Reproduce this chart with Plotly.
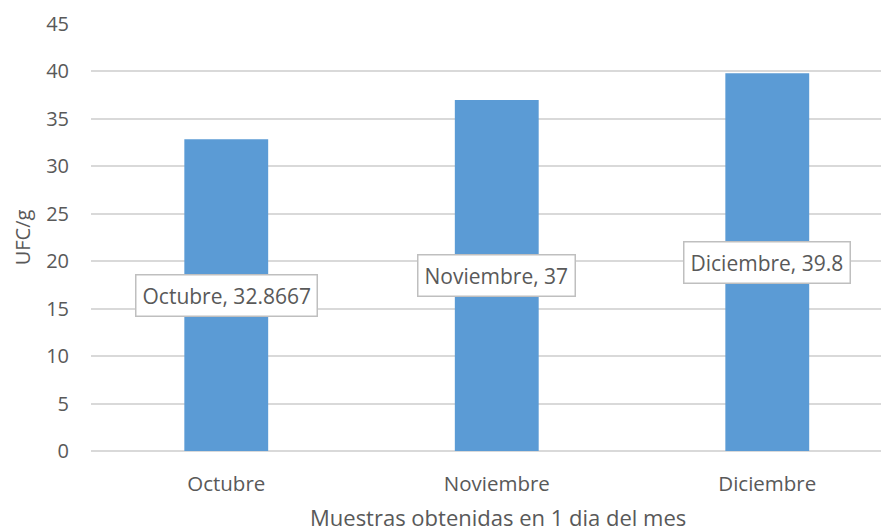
import plotly.graph_objects as go

categories = ["Octubre", "Noviembre", "Diciembre"]
values = [32.8667, 37, 39.8]
label_texts = ["Octubre, 32.8667", "Noviembre, 37", "Diciembre, 39.8"]
y_ticks = [0, 5, 10, 15, 20, 25, 30, 35, 40, 45]
x_title = "Muestras obtenidas en 1 dia del mes"
y_title = "UFC/g"

FONT = "Open Sans"
TXT = "#595959"

fig = go.Figure()
fig.add_trace(go.Bar(
    x=categories, y=values, width=0.31,
    marker=dict(color="#5B9BD5", line=dict(width=0)),
    hoverinfo="skip",
))

for c, v, t in zip(categories, values, label_texts):
    fig.add_annotation(
        x=c, y=v / 2, text=t, showarrow=False,
        font=dict(family=FONT, size=21, color=TXT),
        bgcolor="white", bordercolor="#BFBFBF", borderwidth=1.5, borderpad=6,
        xanchor="center", yanchor="middle",
    )

fig.add_annotation(
    x=0.51, y=0, xref="paper", yref="paper", yshift=-66,
    text=x_title, showarrow=False, xanchor="center", yanchor="middle",
    font=dict(family=FONT, size=22, color=TXT), borderpad=0,
)

fig.update_layout(
    width=881, height=523,
    margin=dict(l=83, r=0, t=16, b=80, autoexpand=False),
    paper_bgcolor="white", plot_bgcolor="white",
    showlegend=False,
    font=dict(family=FONT, color=TXT),
    xaxis=dict(
        range=[-0.5, 2.45], showgrid=False, showline=False, ticks="",
        automargin=False, ticklabelstandoff=18,
        tickfont=dict(family=FONT, size=20.5, color=TXT),
    ),
    yaxis=dict(
        range=[0, 45], tickvals=y_ticks, showgrid=True, gridcolor="#D9D9D9",
        gridwidth=1.5, zeroline=True, zerolinecolor="#D9D9D9", zerolinewidth=1.5,
        showline=False, ticks="", ticklabelstandoff=21, automargin=False,
        tickfont=dict(family=FONT, size=20, color=TXT),
        title=dict(text=y_title, font=dict(family=FONT, size=20, color=TXT), standoff=10),
    ),
)

fig.write_html("out.html")
